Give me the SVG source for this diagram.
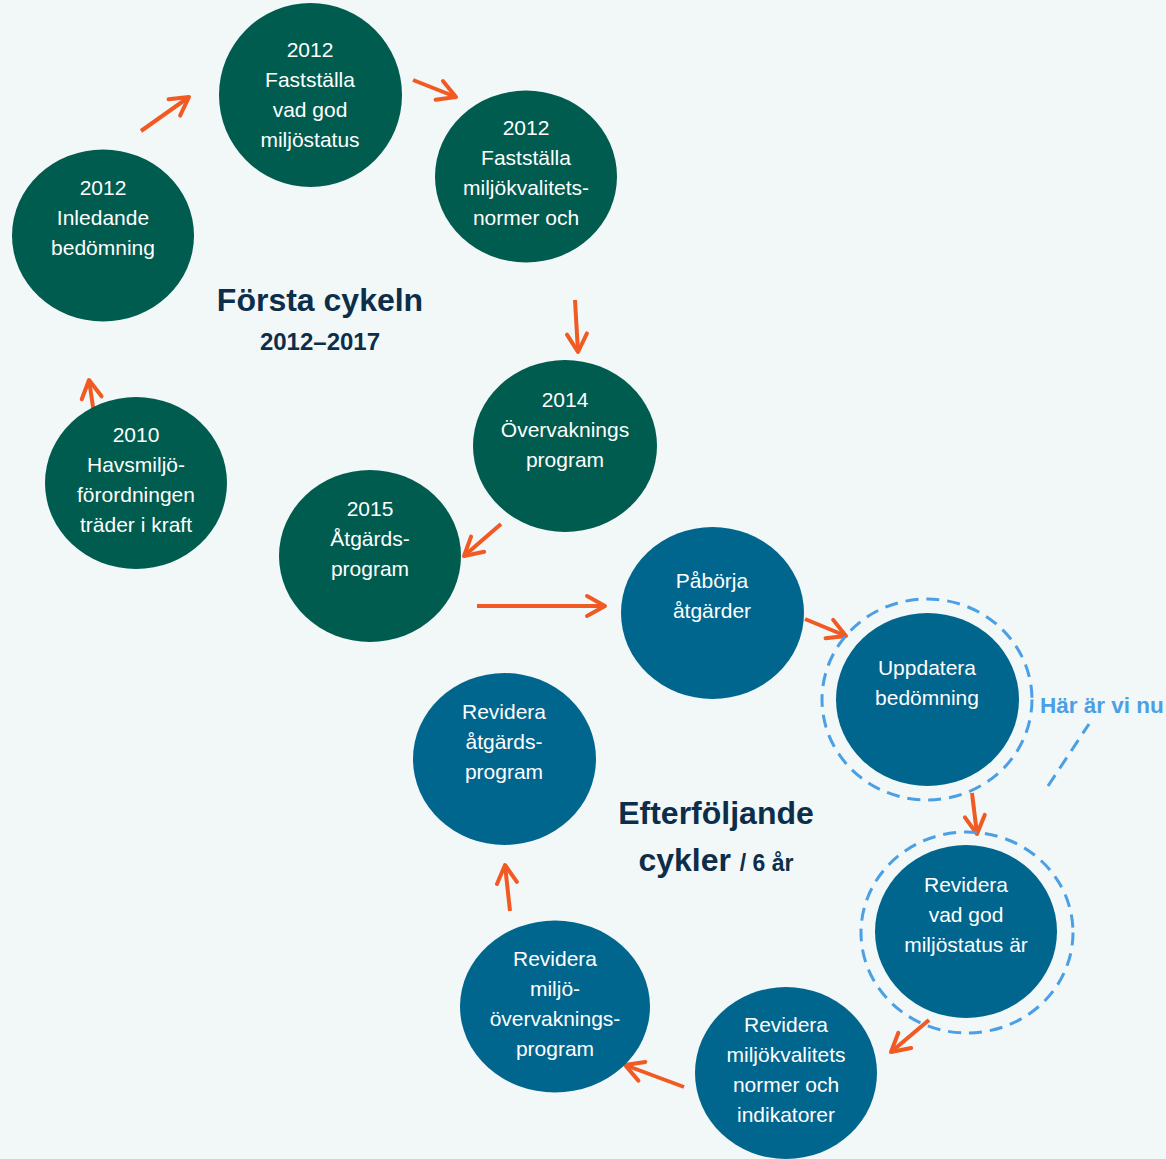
<svg xmlns="http://www.w3.org/2000/svg" width="1166" height="1159" viewBox="0 0 1166 1159">
<defs>
<style>
.g{fill:#005C4F}
.b{fill:#01668E}
.t{font-family:"Liberation Sans",Arial,sans-serif;font-size:21px;fill:#ffffff;text-anchor:middle}
.h{font-family:"Liberation Sans",Arial,sans-serif;font-weight:bold;fill:#0D2E4A;text-anchor:middle}
.ar{stroke:#F15A22;stroke-width:4;fill:none;marker-end:url(#arr)}
.d{fill:none;stroke:#4A9FE5;stroke-width:3;stroke-dasharray:13 8}
</style>
<marker id="arr" markerUnits="userSpaceOnUse" viewBox="-22 -13 26 26" markerWidth="26" markerHeight="26" refX="0" refY="0" orient="auto" overflow="visible">
<path d="M-18,-10 L0,0 L-18,10" fill="none" stroke="#F15A22" stroke-width="4" stroke-linecap="round" stroke-linejoin="round"/>
</marker>
</defs>
<rect width="1166" height="1159" fill="#F2F7F8"/>

<g id="connectors">
<line class="ar" x1="141" y1="131" x2="189" y2="97"/>
<line class="ar" x1="413" y1="80" x2="456" y2="97"/>
<line class="ar" x1="575" y1="300" x2="578" y2="352"/>
<line class="ar" x1="501" y1="524" x2="464" y2="556"/>
<line class="ar" x1="477" y1="606" x2="605" y2="606"/>
<line class="ar" x1="805" y1="619" x2="846" y2="636"/>
<line class="ar" x1="972" y1="793" x2="977" y2="834"/>
<line class="ar" x1="929" y1="1020" x2="891" y2="1052"/>
<line class="ar" x1="684" y1="1087" x2="625" y2="1065"/>
<line class="ar" x1="510" y1="911" x2="505" y2="865"/>
<line class="ar" x1="96" y1="427" x2="89" y2="380"/>
</g>

<g id="n-inledande"><ellipse class="g" cx="103" cy="235.5" rx="91" ry="86"/>
<text class="t"><tspan x="103" y="195">2012</tspan><tspan x="103" y="225">Inledande</tspan><tspan x="103" y="255">bedömning</tspan></text></g>

<g id="n-vadgod"><ellipse class="g" cx="310.5" cy="95" rx="91.5" ry="92"/>
<text class="t"><tspan x="310" y="57">2012</tspan><tspan x="310" y="87">Fastställa</tspan><tspan x="310" y="117">vad god</tspan><tspan x="310" y="147">miljöstatus</tspan></text></g>

<g id="n-mkn"><ellipse class="g" cx="526" cy="176.5" rx="91" ry="86"/>
<text class="t"><tspan x="526" y="135">2012</tspan><tspan x="526" y="165">Fastställa</tspan><tspan x="526" y="195">miljökvalitets-</tspan><tspan x="526" y="225">normer och</tspan></text></g>

<g id="n-overvakning"><ellipse class="g" cx="565" cy="446" rx="92" ry="86"/>
<text class="t"><tspan x="565" y="407">2014</tspan><tspan x="565" y="437">Övervaknings</tspan><tspan x="565" y="467">program</tspan></text></g>

<g id="n-havsmiljo"><ellipse class="g" cx="136" cy="483" rx="91" ry="86"/>
<text class="t"><tspan x="136" y="442">2010</tspan><tspan x="136" y="472">Havsmiljö-</tspan><tspan x="136" y="502">förordningen</tspan><tspan x="136" y="532">träder i kraft</tspan></text></g>

<g id="n-atgard"><ellipse class="g" cx="370" cy="556" rx="91" ry="86"/>
<text class="t"><tspan x="370" y="516">2015</tspan><tspan x="370" y="546">Åtgärds-</tspan><tspan x="370" y="576">program</tspan></text></g>

<g id="n-paborja"><ellipse class="b" cx="712.5" cy="613" rx="91.5" ry="86"/>
<text class="t"><tspan x="712" y="588">Påbörja</tspan><tspan x="712" y="618">åtgärder</tspan></text></g>

<g id="n-uppdatera"><ellipse class="d" cx="927" cy="699.5" rx="105" ry="100.5"/>
<ellipse class="b" cx="927.5" cy="699.5" rx="91.5" ry="86.5"/>
<text class="t"><tspan x="927" y="675">Uppdatera</tspan><tspan x="927" y="705">bedömning</tspan></text></g>

<g id="n-rev-atgard"><ellipse class="b" cx="504.5" cy="759" rx="91.5" ry="86"/>
<text class="t"><tspan x="504" y="719">Revidera</tspan><tspan x="504" y="749">åtgärds-</tspan><tspan x="504" y="779">program</tspan></text></g>

<g id="n-rev-vadgod"><ellipse class="d" cx="967" cy="932.5" rx="106" ry="100.5"/>
<ellipse class="b" cx="966" cy="931.5" rx="91" ry="86.5"/>
<text class="t"><tspan x="966" y="892">Revidera</tspan><tspan x="966" y="922">vad god</tspan><tspan x="966" y="952">miljöstatus är</tspan></text></g>

<g id="n-rev-overvakning"><ellipse class="b" cx="555" cy="1006.5" rx="95" ry="86"/>
<text class="t"><tspan x="555" y="966">Revidera</tspan><tspan x="555" y="996">miljö-</tspan><tspan x="555" y="1026">övervaknings-</tspan><tspan x="555" y="1056">program</tspan></text></g>

<g id="n-rev-mkn"><ellipse class="b" cx="786" cy="1073" rx="91" ry="86"/>
<text class="t"><tspan x="786" y="1032">Revidera</tspan><tspan x="786" y="1062">miljökvalitets</tspan><tspan x="786" y="1092">normer och</tspan><tspan x="786" y="1122">indikatorer</tspan></text></g>

<g id="labels">
<text class="h" x="320" y="311" font-size="32">Första cykeln</text>
<text class="h" x="320" y="350" font-size="24">2012–2017</text>
<text class="h" x="716" y="824" font-size="32">Efterföljande</text>
<text class="h" x="716" y="871" font-size="32">cykler <tspan font-size="23">/ 6 år</tspan></text>
<text x="1040" y="713" font-family="'Liberation Sans',Arial,sans-serif" font-weight="bold" font-size="22.5" fill="#4A9FE5">Här är vi nu</text>
<line x1="1048" y1="786" x2="1089" y2="724" stroke="#4A9FE5" stroke-width="3" stroke-dasharray="13 8"/>
</g>
</svg>
